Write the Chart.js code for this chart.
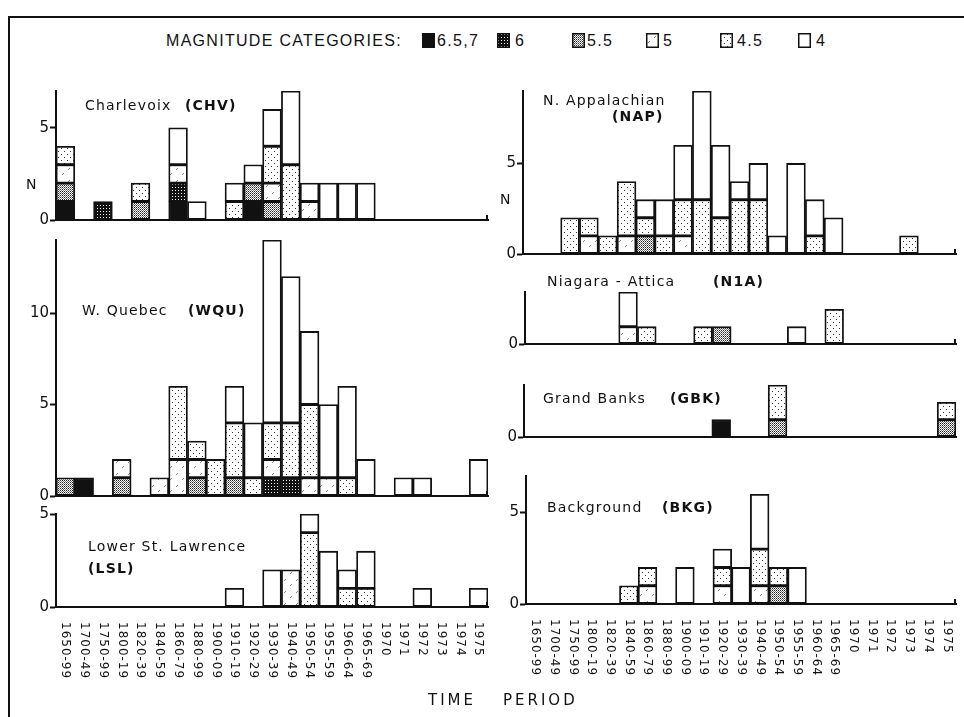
<!DOCTYPE html>
<html><head><meta charset="utf-8">
<script src="https://cdn.jsdelivr.net/npm/chart.js@4.4.1/dist/chart.umd.min.js"></script>
<style>
html,body{margin:0;padding:0;background:#fff;}
#page{position:relative;width:964px;height:717px;overflow:hidden;background:#fff;color:#111;font-family:'DejaVu Sans',sans-serif;}
.abs{position:absolute;white-space:pre;line-height:1;}
canvas.panel{position:absolute;}
.ttl{font-size:14px;letter-spacing:1.2px;z-index:5;}
.code{font-weight:bold;}
.lg{font-family:'Liberation Sans',sans-serif;font-size:16px;letter-spacing:1.3px;}
.sw{position:absolute;}
.ax{font-size:15px;letter-spacing:3px;}
</style></head><body><div id="page">
<div class="abs" style="left:9px;top:16px;width:955px;height:0;border-top:2px solid #111"></div>
<div class="abs" style="left:8px;top:16px;width:0;height:705px;border-left:2px solid #111"></div>

<div class="abs lg" style="left:166px;top:33px;">MAGNITUDE CATEGORIES:</div>
<div class="abs lg" style="left:437px;top:33px;">6.5,7</div>
<div class="abs lg" style="left:515px;top:33px;">6</div>
<div class="abs lg" style="left:587px;top:33px;">5.5</div>
<div class="abs lg" style="left:663px;top:33px;">5</div>
<div class="abs lg" style="left:737px;top:33px;">4.5</div>
<div class="abs lg" style="left:816px;top:33px;">4</div>

<div class="abs ttl" style="left:85px;top:98px;">Charlevoix</div>
<div class="abs ttl code" style="left:185px;top:98px;">(CHV)</div>
<div class="abs ttl" style="left:82px;top:303px;">W. Quebec</div>
<div class="abs ttl code" style="left:188px;top:303px;">(WQU)</div>
<div class="abs ttl" style="left:88px;top:539px;">Lower St. Lawrence</div>
<div class="abs ttl code" style="left:88px;top:561px;">(LSL)</div>
<div class="abs ttl" style="left:543px;top:93px;">N. Appalachian</div>
<div class="abs ttl code" style="left:612px;top:109px;">(NAP)</div>
<div class="abs ttl" style="left:547px;top:274px;">Niagara - Attica</div>
<div class="abs ttl code" style="left:713px;top:274px;">(N1A)</div>
<div class="abs ttl" style="left:543px;top:391px;">Grand Banks</div>
<div class="abs ttl code" style="left:670px;top:391px;">(GBK)</div>
<div class="abs ttl" style="left:547px;top:500px;">Background</div>
<div class="abs ttl code" style="left:662px;top:500px;">(BKG)</div>

<div class="abs ttl" style="left:26px;top:177px;letter-spacing:0">N</div>
<div class="abs ttl" style="left:500px;top:192px;letter-spacing:0">N</div>

<div class="abs ax" style="left:428px;top:693px;">TIME</div>
<div class="abs ax" style="left:503px;top:693px;">PERIOD</div>
</div>
<script>
// ---------------- DATA ----------------
const periods = ['1650-99','1700-49','1750-99','1800-19','1820-39','1840-59','1860-79','1880-99','1900-09','1910-19','1920-29','1930-39','1940-49','1950-54','1955-59','1960-64','1965-69','1970','1971','1972','1973','1974','1975'];
const magnitudes = ['6.5,7','6','5.5','5','4.5','4'];

// Charlevoix (CHV)
const chvM67 = [1,0,0,0,0,0,1,0,0,0,1,0,0,0,0,0,0,0,0,0,0,0,0];
const chvM6  = [0,0,1,0,0,0,1,0,0,0,0,0,0,0,0,0,0,0,0,0,0,0,0];
const chvM55 = [1,0,0,0,1,0,0,0,0,0,1,1,0,0,0,0,0,0,0,0,0,0,0];
const chvM5  = [1,0,0,0,0,0,1,0,0,0,0,1,0,1,0,0,0,0,0,0,0,0,0];
const chvM45 = [1,0,0,0,1,0,0,0,0,1,0,2,3,0,0,0,0,0,0,0,0,0,0];
const chvM4  = [0,0,0,0,0,0,2,1,0,1,1,2,4,1,2,2,2,0,0,0,0,0,0];

// W. Quebec (WQU)
const wquM67 = [0,1,0,0,0,0,0,0,0,0,0,0,0,0,0,0,0,0,0,0,0,0,0];
const wquM6  = [0,0,0,0,0,0,0,0,0,0,0,1,1,0,0,0,0,0,0,0,0,0,0];
const wquM55 = [1,0,0,1,0,0,0,1,0,1,0,0,0,0,0,0,0,0,0,0,0,0,0];
const wquM5  = [0,0,0,1,0,1,2,1,0,0,0,1,0,1,1,0,0,0,0,0,0,0,0];
const wquM45 = [0,0,0,0,0,0,4,1,2,3,1,2,3,4,0,1,0,0,0,0,0,0,0];
const wquM4  = [0,0,0,0,0,0,0,0,0,2,3,10,8,4,4,5,2,0,1,1,0,0,2];

// Lower St. Lawrence (LSL)
const lslM67 = [0,0,0,0,0,0,0,0,0,0,0,0,0,0,0,0,0,0,0,0,0,0,0];
const lslM6  = [0,0,0,0,0,0,0,0,0,0,0,0,0,0,0,0,0,0,0,0,0,0,0];
const lslM55 = [0,0,0,0,0,0,0,0,0,0,0,0,0,0,0,0,0,0,0,0,0,0,0];
const lslM5  = [0,0,0,0,0,0,0,0,0,0,0,0,2,0,0,0,0,0,0,0,0,0,0];
const lslM45 = [0,0,0,0,0,0,0,0,0,0,0,0,0,4,0,1,1,0,0,0,0,0,0];
const lslM4  = [0,0,0,0,0,0,0,0,0,1,0,2,0,1,3,1,2,0,0,1,0,0,1];

// N. Appalachian (NAP)
const napM67 = [0,0,0,0,0,0,0,0,0,0,0,0,0,0,0,0,0,0,0,0,0,0,0];
const napM6  = [0,0,0,0,0,0,0,0,0,0,0,0,0,0,0,0,0,0,0,0,0,0,0];
const napM55 = [0,0,0,0,0,0,1,0,0,0,0,0,0,0,0,0,0,0,0,0,0,0,0];
const napM5  = [0,0,0,1,0,1,0,0,1,0,0,0,0,0,0,0,0,0,0,0,0,0,0];
const napM45 = [0,0,2,1,1,3,1,1,2,3,2,3,3,0,0,1,0,0,0,0,1,0,0];
const napM4  = [0,0,0,0,0,0,1,2,3,6,4,1,2,1,5,2,2,0,0,0,0,0,0];

// Niagara - Attica (N1A)
const n1aM67 = [0,0,0,0,0,0,0,0,0,0,0,0,0,0,0,0,0,0,0,0,0,0,0];
const n1aM6  = [0,0,0,0,0,0,0,0,0,0,0,0,0,0,0,0,0,0,0,0,0,0,0];
const n1aM55 = [0,0,0,0,0,0,0,0,0,0,1,0,0,0,0,0,0,0,0,0,0,0,0];
const n1aM5  = [0,0,0,0,0,1,0,0,0,0,0,0,0,0,0,0,0,0,0,0,0,0,0];
const n1aM45 = [0,0,0,0,0,0,1,0,0,1,0,0,0,0,0,0,2,0,0,0,0,0,0];
const n1aM4  = [0,0,0,0,0,2,0,0,0,0,0,0,0,0,1,0,0,0,0,0,0,0,0];

// Grand Banks (GBK)
const gbkM67 = [0,0,0,0,0,0,0,0,0,0,1,0,0,0,0,0,0,0,0,0,0,0,0];
const gbkM6  = [0,0,0,0,0,0,0,0,0,0,0,0,0,0,0,0,0,0,0,0,0,0,0];
const gbkM55 = [0,0,0,0,0,0,0,0,0,0,0,0,0,1,0,0,0,0,0,0,0,0,1];
const gbkM5  = [0,0,0,0,0,0,0,0,0,0,0,0,0,0,0,0,0,0,0,0,0,0,0];
const gbkM45 = [0,0,0,0,0,0,0,0,0,0,0,0,0,2,0,0,0,0,0,0,0,0,1];
const gbkM4  = [0,0,0,0,0,0,0,0,0,0,0,0,0,0,0,0,0,0,0,0,0,0,0];

// Background (BKG)
const bkgM67 = [0,0,0,0,0,0,0,0,0,0,0,0,0,0,0,0,0,0,0,0,0,0,0];
const bkgM6  = [0,0,0,0,0,0,0,0,0,0,0,0,0,0,0,0,0,0,0,0,0,0,0];
const bkgM55 = [0,0,0,0,0,0,0,0,0,0,0,0,0,1,0,0,0,0,0,0,0,0,0];
const bkgM5  = [0,0,0,0,0,0,1,0,0,0,1,0,1,0,0,0,0,0,0,0,0,0,0];
const bkgM45 = [0,0,0,0,0,1,1,0,0,0,1,0,2,1,0,0,0,0,0,0,0,0,0];
const bkgM4  = [0,0,0,0,0,0,0,0,2,0,1,2,3,0,2,0,0,0,0,0,0,0,0];

// y tick values per panel
const chvTicks = [0,5];
const wquTicks = [0,5,10];
const lslTicks = [0,5];
const napTicks = [0,5];
const n1aTicks = [0];
const gbkTicks = [0];
const bkgTicks = [0,5];

// ---------------- PATTERNS ----------------
const INK = '#111';
function tile(w,h,draw){const c=document.createElement('canvas');c.width=w;c.height=h;const x=c.getContext('2d');x.fillStyle='#fff';x.fillRect(0,0,w,h);draw(x);return c;}
const tiles = [
  tile(2,2,x=>{x.fillStyle=INK;x.fillRect(0,0,2,2);}),
  tile(3,3,x=>{x.fillStyle=INK;x.fillRect(0,0,3,3);x.fillStyle='#fff';x.fillRect(1,1,1,1);}),
  tile(2,2,x=>{x.fillStyle='#222';x.fillRect(0,0,1,1);x.fillStyle='#777';x.fillRect(1,1,1,1);}),
  tile(12,12,x=>{x.strokeStyle='#666';x.lineWidth=0.8;x.beginPath();x.moveTo(2,10);x.lineTo(4,8);x.moveTo(8,5);x.lineTo(10,3);x.stroke();}),
  tile(6,6,x=>{x.fillStyle='#333';x.fillRect(1,1,1,1);x.fillRect(4,4,1,1);}),
  tile(2,2,x=>{})
];
const pctx = document.createElement('canvas').getContext('2d');
const fills = tiles.map(t=>pctx.createPattern(t,'repeat'));

// ---------------- LEGEND SWATCHES ----------------
const swatchX = [422,497,572,646,720,798];
const page = document.getElementById('page');
swatchX.forEach((sx,k)=>{
  const c=document.createElement('canvas');c.width=13;c.height=15;c.className='sw';
  c.style.left=sx+'px';c.style.top='33px';
  const x=c.getContext('2d');x.fillStyle=fills[k];x.fillRect(0,0,13,15);
  x.strokeStyle=INK;x.lineWidth=1.5;x.strokeRect(0.75,0.75,11.5,13.5);
  page.appendChild(c);
});

// ---------------- PANELS ----------------
const panels = [
  {series:[chvM67,chvM6,chvM55,chvM5,chvM45,chvM4], ticks:chvTicks, max:7,  l:56,  r:488, t:91,  b:220, labels:false},
  {series:[wquM67,wquM6,wquM55,wquM5,wquM45,wquM4], ticks:wquTicks, max:14, l:56,  r:488, t:240, b:496, labels:false},
  {series:[lslM67,lslM6,lslM55,lslM5,lslM45,lslM4], ticks:lslTicks, max:5,  l:56,  r:488, t:514, b:607, labels:true},
  {series:[napM67,napM6,napM55,napM5,napM45,napM4], ticks:napTicks, max:9,  l:523, r:956, t:91,  b:254, labels:false},
  {series:[n1aM67,n1aM6,n1aM55,n1aM5,n1aM45,n1aM4], ticks:n1aTicks, max:3,  l:525, r:956, t:292, b:344, labels:false},
  {series:[gbkM67,gbkM6,gbkM55,gbkM5,gbkM45,gbkM4], ticks:gbkTicks, max:3,  l:524, r:956, t:385, b:437, labels:false},
  {series:[bkgM67,bkgM6,bkgM55,bkgM5,bkgM45,bkgM4], ticks:bkgTicks, max:7,  l:526, r:956, t:476, b:604, labels:true}
];
const YW=44, PT=10, PR=6;

const deco = {
  id:'deco',
  afterDraw(chart, args, opts){
    const ctx=chart.ctx, a=chart.chartArea, xs=chart.scales.x;
    ctx.save();
    ctx.strokeStyle=INK; ctx.lineWidth=2;
    ctx.beginPath(); ctx.moveTo(a.right-1,a.bottom); ctx.lineTo(a.right-1,a.bottom-5); ctx.stroke();
    if(opts.labels){
      ctx.fillStyle=INK; ctx.font='12px "DejaVu Sans"';
      try{ctx.letterSpacing='1px';}catch(e){}
      ctx.textAlign='left'; ctx.textBaseline='middle';
      periods.forEach((p,i)=>{
        const x=xs.getPixelForValue(i);
        ctx.save(); ctx.translate(x,a.bottom+opts.gap); ctx.rotate(Math.PI/2);
        ctx.fillText(p,0,0); ctx.restore();
      });
    }
    ctx.restore();
  }
};

panels.forEach(p=>{
  const XH = p.labels ? 100 : 14;
  const c=document.createElement('canvas'); c.className='panel';
  const W=(p.r-p.l)+YW+PR, H=(p.b-p.t)+PT+XH;
  c.width=W; c.height=H; c.style.left=(p.l-YW)+'px'; c.style.top=(p.t-PT)+'px';
  c.style.width=W+'px'; c.style.height=H+'px';
  page.insertBefore(c, page.firstChild);
  new Chart(c,{
    type:'bar',
    data:{labels:periods, datasets:p.series.map((s,k)=>({
      label:magnitudes[k], data:s.map(v=>v||null), backgroundColor:fills[k],
      borderColor:INK, borderWidth:1.8, borderSkipped:false,
      barPercentage:1, categoryPercentage:1, stack:'m'
    }))},
    options:{
      responsive:false, animation:false, devicePixelRatio:1,
      layout:{padding:{top:PT,right:PR,left:0,bottom:0}},
      plugins:{legend:{display:false}, tooltip:{enabled:false}, deco:{labels:p.labels, gap:p.labels?15:0}},
      scales:{
        x:{type:'category', stacked:true, offset:true,
           grid:{display:true, drawOnChartArea:false, drawTicks:false},
           border:{display:true, color:INK, width:2},
           ticks:{display:false},
           afterFit(s){s.height=XH;}},
        y:{stacked:true, min:0, max:p.max,
           afterBuildTicks(s){s.ticks=p.ticks.map(v=>({value:v}));},
           grid:{display:true, drawOnChartArea:false, drawTicks:true, tickLength:6, tickWidth:2, tickColor:INK},
           border:{display:true, color:INK, width:2},
           ticks:{color:INK, padding:1, font:{family:'DejaVu Sans', size:15}},
           afterFit(s){s.width=YW;}}
      }
    },
    plugins:[deco]
  });
});
</script>
</body></html>
